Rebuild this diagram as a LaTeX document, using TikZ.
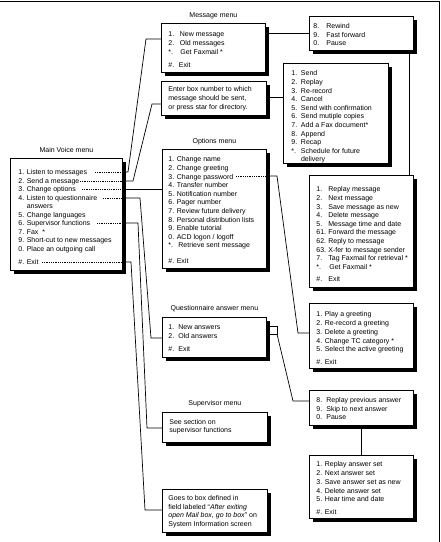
\documentclass[tikz,border=0pt]{standalone}
\usepackage{fontspec}
\setmainfont{Liberation Sans}
\usetikzlibrary{positioning, shadows, calc}
\tikzset{
  every picture/.style={line width=0.8pt},
  menu/.style={draw, fill=white, anchor=north west, inner sep=0pt,
    drop shadow={shadow xshift=4pt, shadow yshift=-4pt, fill=black, opacity=1}},
  items/.style={anchor=north west, align=left, inner sep=0pt, font=\fontsize{7}{8.6}\selectfont},
  heading/.style={anchor=base, inner sep=0pt, font=\fontsize{7}{8.6}\selectfont},
  link/.style={line width=0.7pt},
  leader/.style={line width=0.6pt, dash pattern=on 0.6pt off 1.2pt},
}
\newcommand{\numcol}[2]{\makebox[#1][l]{#2}}

\begin{document}
\begin{tikzpicture}[x=1pt, y=-1pt]
  \useasboundingbox (0,0) rectangle (441,542);
  \draw (0,1) -- (439,1) -- (439,542);

  % menu boxes
  \node[menu, minimum width=112pt, minimum height=112pt] (main) at (10,158) {};
  \node[menu, minimum width=104pt, minimum height=49pt] (msg) at (161,23) {};
  \node[menu, minimum width=104pt, minimum height=34pt] (rewind) at (309,16) {};
  \node[menu, minimum width=105pt, minimum height=34pt] (enter) at (161,81) {};
  \node[menu, minimum width=105pt, minimum height=100pt] (send) at (283,63) {};
  \node[menu, minimum width=104pt, minimum height=119pt] (options) at (162,149) {};
  \node[menu, minimum width=104pt, minimum height=112pt] (replay) at (309,175) {};
  \node[menu, minimum width=104pt, minimum height=65pt] (greet) at (309,303) {};
  \node[menu, minimum width=104pt, minimum height=40pt] (quest) at (162,317) {};
  \node[menu, minimum width=104pt, minimum height=35pt] (prevans) at (309,390) {};
  \node[menu, minimum width=104pt, minimum height=63pt] (ansset) at (309,455) {};
  \node[menu, minimum width=105pt, minimum height=30pt] (super) at (162,412) {};
  \node[menu, minimum width=105pt, minimum height=43pt] (goesto) at (162,489) {};

  % titles
  \node[heading] (main-title) at ([yshift=6pt]main.north) {Main Voice menu};
  \node[heading] (msg-title) at ([yshift=6pt]msg.north) {Message menu};
  \node[heading] (options-title) at ([yshift=6pt]options.north) {Options menu};
  \node[heading] (quest-title) at ([yshift=6.5pt]quest.north) {Questionnaire answer menu};
  \node[heading] (super-title) at ([yshift=6.5pt]super.north) {Supervisor menu};

  % menu texts
  \node[items, font=\fontsize{7}{8.45}\selectfont] (main-txt) at ([shift={(8pt,-11.5pt)}]main.north west)
    {1. Listen to messages\\2. Send a message\\3. Change options\\4. Listen to questionnaire\\\phantom{4. }answers\\5. Change languages\\6. Supervisor functions\\7. Fax\ \ *\\9. Short-cut to new messages\\0. Place an outgoing call\\[5.2pt]\#. Exit};
  \node[items, font=\fontsize{7}{9}\selectfont] (msg-txt) at ([shift={(7pt,-8.5pt)}]msg.north west)
    {\numcol{11.5pt}{1.}New message\\\numcol{11.5pt}{2.}Old messages\\\numcol{12pt}{*.}Get Faxmail *\\[4pt]\numcol{10.5pt}{\#.}Exit};
  \node[items, font=\fontsize{7}{8.5}\selectfont] (rewind-txt) at ([shift={(4pt,-7.5pt)}]rewind.north west)
    {\numcol{13pt}{8.}Rewind\\\numcol{13pt}{9.}Fast forward\\\numcol{13pt}{0.}Pause};
  \node[items, font=\fontsize{7}{9}\selectfont] (enter-txt) at ([shift={(7pt,-5.5pt)}]enter.north west)
    {Enter box number to which\\message should be sent,\\or press star for directory.};
  \node[items] (send-txt) at ([shift={(8pt,-7.5pt)}]send.north west)
    {\numcol{9.6pt}{1.}Send\\\numcol{9.6pt}{2.}Replay\\\numcol{9.6pt}{3.}Re-record\\\numcol{9.6pt}{4.}Cancel\\\numcol{9.6pt}{5.}Send with confirmation\\\numcol{9.6pt}{6.}Send mutiple copies\\\numcol{9.6pt}{7.}Add a Fax document*\\\numcol{9.6pt}{8.}Append\\\numcol{9.6pt}{9.}Recap\\\numcol{9.6pt}{*.}Schedule for future\\\numcol{9.6pt}{}delivery};
  \node[items] (options-txt) at ([shift={(6pt,-7.5pt)}]options.north west)
    {1. Change name\\2. Change greeting\\3. Change password\\4. Transfer number\\5. Notification number\\6. Pager number\\7. Review future delivery\\8. Personal distribution lists\\9. Enable tutorial\\0. ACD logon / logoff\\\numcol{10pt}{*.}Retrieve sent message\\[7pt]\#. Exit};
  \node[items] (replay-txt) at ([shift={(7pt,-11.5pt)}]replay.north west)
    {\numcol{12pt}{1.}Replay message\\\numcol{12pt}{2.}Next message\\\numcol{12pt}{3.}Save message as new\\\numcol{12pt}{4.}Delete message\\\numcol{12pt}{5.}Message time and date\\\numcol{12pt}{61.}Forward the message\\\numcol{12pt}{62.}Reply to message\\\numcol{12pt}{63.}X-fer to message sender\\\numcol{12pt}{7.}Tag Faxmail for retrieval *\\\numcol{13pt}{*.}Get Faxmail *\\[3.7pt]\numcol{12pt}{\#.}Exit};
  \node[items, font=\fontsize{7}{8.7}\selectfont] (greet-txt) at ([shift={(7pt,-8.5pt)}]greet.north west)
    {1. Play a greeting\\2. Re-record a greeting\\3. Delete a greeting\\4. Change TC category *\\5. Select the active greeting\\[3.6pt]\#. Exit};
  \node[items, font=\fontsize{7}{9}\selectfont] (quest-txt) at ([shift={(6pt,-7.5pt)}]quest.north west)
    {\numcol{10pt}{1.}New answers\\\numcol{10pt}{2.}Old answers\\[4pt]\numcol{10pt}{\#.}Exit};
  \node[items, font=\fontsize{7}{8.5}\selectfont] (prevans-txt) at ([shift={(7pt,-7.5pt)}]prevans.north west)
    {\numcol{10pt}{8.}Replay previous answer\\\numcol{10pt}{9.}Skip to next answer\\\numcol{10pt}{0.}Pause};
  \node[items, font=\fontsize{7}{8.7}\selectfont] (ansset-txt) at ([shift={(7pt,-6.5pt)}]ansset.north west)
    {1. Replay answer set\\2. Next answer set\\3. Save answer set as new\\4. Delete answer set\\5. Hear time and date\\[4.3pt]\#. Exit};
  \node[items, font=\fontsize{7}{8}\selectfont] (super-txt) at ([shift={(7pt,-7.5pt)}]super.north west)
    {See section on\\supervisor functions};
  \node[items, font=\fontsize{7}{8.5}\selectfont] (goesto-txt) at ([shift={(6pt,-6.5pt)}]goesto.north west)
    {Goes to box defined in\\field labeled “\textit{After exiting}\\\textit{open Mail box, go to box}” on\\System Information screen};

  % leaders in the main menu
  \foreach \xs/\y in {95/172, 80/181, 82/189, 103/198, 97/223, 42/262}
    \draw[leader] (\xs,\y) -- (main.east |- 0,\y);
  \draw[leader] (236,176) -- (options.east |- 0,176);

  % connectors
  \draw[link] (main.east |- 0,172) -- (128,172) -- (146,39) -- (msg.west |- 0,39);
  \draw[link] (main.east |- 0,181) -- (133,181) -- (152,104) -- (enter.west |- 0,104);
  \draw[link] (main.east |- 0,189) -- (options.west |- 0,189);
  \draw[link] (main.east |- 0,198) -- (140,198) -- (151,338) -- (quest.west |- 0,338);
  \draw[link] (main.east |- 0,223) -- (138,223) -- (147,428) -- (super.west |- 0,428);
  \draw[link] (main.east |- 0,262) -- (131,262) -- (145,510) -- (goesto.west |- 0,510);
  \draw[link] (msg.east |- 0,33) -- (rewind.west |- 0,33);
  \draw[link] (rewind.south -| 409,0) -- (replay.north -| 409,0);
  \draw[link] (enter.east |- 0,97) -- (send.west |- 0,97);
  \draw[link] (options.east |- 0,176) -- (277,176) -- (298,333) -- (greet.west |- 0,333);
  \draw[link] (quest.east |- 0,326) -- (277,326) -- (277,334) -- (quest.east |- 0,334);
  \draw[link] (277,334) -- (293,401) -- (prevans.west |- 0,401);
  \draw[link] (prevans.south) -- (ansset.north);
\end{tikzpicture}
\end{document}
